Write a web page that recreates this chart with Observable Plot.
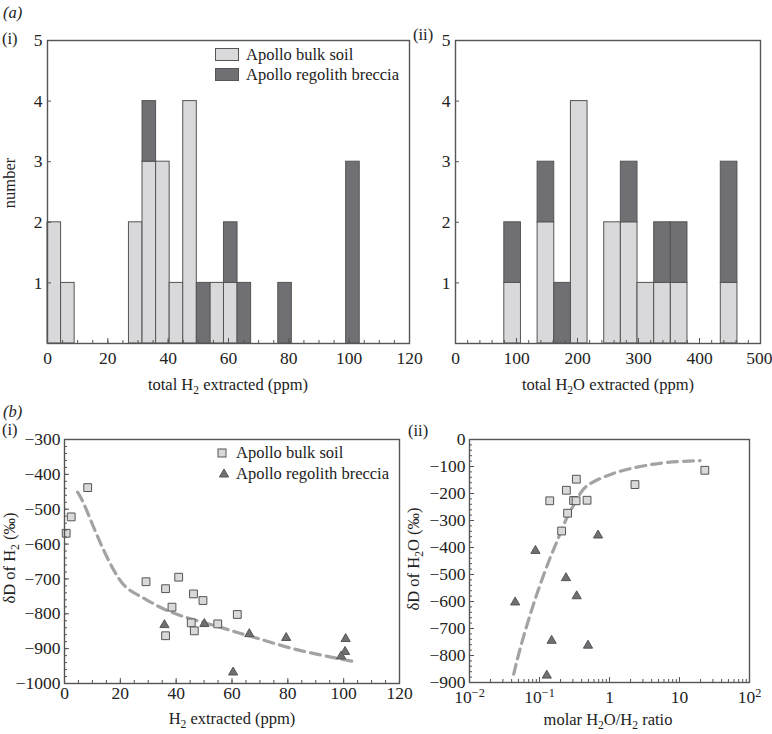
<!DOCTYPE html>
<html><head><meta charset="utf-8">
<script src="https://cdn.jsdelivr.net/npm/d3@7"></script>
<script src="https://cdn.jsdelivr.net/npm/@observablehq/plot@0.6"></script>
<style>
body{margin:0;background:#fff;}
#root{position:relative;width:772px;height:734px;font-family:"Liberation Serif",serif;color:#222;overflow:hidden;background:#fff}
#root svg text{font-family:"Liberation Serif",serif !important;}
.panel{position:absolute}
.lab{position:absolute;white-space:nowrap;line-height:1;transform:translate(0,-50%);font-size:16.5px}
.t{position:absolute;white-space:nowrap;line-height:1;transform:translate(-50%,-50%);font-size:16.5px}
.ty{position:absolute;white-space:nowrap;line-height:1;transform:translate(-50%,-50%) rotate(-90deg);font-size:16.5px}
sub{font-size:0.7em;vertical-align:-0.35em;line-height:0}
.sw{position:absolute;box-sizing:border-box;border:1px solid #555}
</style></head><body><div id="root"></div>
<script>
// ---------------- data ----------------
const categories = ["Apollo bulk soil", "Apollo regolith breccia"];

// (a)(i) histogram of total H2 extracted (ppm)
const h2BinWidth = 4.5;
const h2BinStart    = [0, 4.5, 27, 31.5, 36, 40.5, 45, 49.5, 54, 58.5, 63, 76.5, 99];
const h2SoilCount   = [2, 1,   2,  3,    3,  1,    4,  0,    1,  1,    0,  0,    0];
const h2BrecciaCount= [0, 0,   0,  1,    0,  0,    0,  1,    0,  1,    1,  1,    3];

// (a)(ii) histogram of total H2O extracted (ppm)
const h2oBinWidth = 27.3;
const h2oBinStart     = [80, 134.6, 161.9, 189.2, 243.8, 271.1, 298.4, 325.7, 353, 434.9];
const h2oSoilCount    = [1,  2,     0,     4,     2,     2,     1,     1,     1,   1];
const h2oBrecciaCount = [1,  1,     1,     0,     0,     1,     0,     1,     1,   2];

// (b)(i) dD of H2 vs H2 extracted
const soilH2     = [0.6, 2.4, 8.3, 29.2, 40.9, 36.2, 46.2, 49.6, 38.5, 61.9, 45.4, 54.9, 46.5, 36.2];
const soilDH2    = [-569, -522, -438, -708, -695, -728, -743, -762, -781, -802, -826, -829, -849, -863];
const brecciaH2  = [35.8, 50.1, 66.2, 79.4, 100.7, 100.5, 99.1, 60.4];
const brecciaDH2 = [-832, -829, -858, -869, -872, -909, -922, -968];
const curveH2x   = [4.7, 6.9, 10.4, 14.0, 17.6, 21.8, 27.2, 33.2, 39.1, 46.3, 54.7, 62.5, 70.2, 80.9, 92.9, 104.8];
const curveH2y   = [-451, -484, -551, -617, -674, -722, -750, -777, -798, -817, -836, -855, -873, -898, -920, -939];

// (b)(ii) dD of H2O vs molar H2O/H2 ratio
const soilRatio     = [0.14, 0.242, 0.336, 0.307, 0.333, 0.478, 0.252, 0.207, 2.31, 23];
const soilDH2O      = [-227, -188, -147, -226, -227, -225, -273, -339, -167, -114];
const brecciaRatio  = [0.0875, 0.686, 0.239, 0.34, 0.0449, 0.149, 0.493, 0.127];
const brecciaDH2O   = [-412, -355, -513, -580, -603, -745, -763, -874];
const curveRatioX   = [0.0428, 0.0535, 0.0741, 0.103, 0.143, 0.188, 0.248, 0.325, 0.428, 0.664, 1.28, 2.75, 6.6, 19.7];
const curveRatioY   = [-869, -770, -646, -535, -436, -362, -288, -232, -183, -150, -121, -100, -85, -78];

// tick values
const h2Ticks   = [0, 20, 40, 60, 80, 100, 120];
const h2oTicks  = [0, 100, 200, 300, 400, 500];
const countTicks = [1, 2, 3, 4, 5];
const dH2Ticks  = [-1000, -900, -800, -700, -600, -500, -400, -300];
const dH2OTicks = [-900, -800, -700, -600, -500, -400, -300, -200, -100, 0];
const ratioTicks = [0.01, 0.1, 1, 10, 100];
const ratioTickLabels = ["10^-2", "10^-1", "1", "10", "10^2"];

// ---------------- helpers ----------------
const EDGE = "#555";
const LIGHT = "#d9d9db";
const DARK = "#707074";
const colorScale = {domain: categories, range: [LIGHT, DARK]};
const baseStyle = {fontFamily: "'Liberation Serif', serif", fontSize: "17.5px", color: "#222", background: "none", overflow: "visible"};
const intFmt = d => String(d).replace("-", "\u2212");

function histRows(starts, width, soil, breccia) {
  const rows = [];
  starts.forEach((s, i) => { if (soil[i] > 0) rows.push({x1: s, x2: s + width, n: soil[i], type: categories[0]}); });
  starts.forEach((s, i) => { if (breccia[i] > 0) rows.push({x1: s, x2: s + width, n: breccia[i], type: categories[1]}); });
  return rows;
}

function place(svg, left, top) {
  const d = document.createElement("div");
  d.className = "panel";
  d.style.left = left + "px"; d.style.top = top + "px";
  d.appendChild(svg);
  document.getElementById("root").appendChild(d);
  return svg;
}

function histPlot(rows, xDomain, xMajor, xMinor, W, H, m) {
  const fw = W - m.left - m.right, fh = H - m.top - m.bottom;
  return Plot.plot({
    width: W, height: H,
    marginLeft: m.left, marginRight: m.right, marginTop: m.top, marginBottom: m.bottom,
    style: baseStyle,
    x: {domain: xDomain, ticks: xMajor, tickSize: 0, tickPadding: 8, label: null, tickFormat: intFmt},
    y: {domain: [0, 5], ticks: countTicks, tickSize: 0, tickPadding: 5, label: null, tickFormat: intFmt},
    color: colorScale,
    marks: [
      Plot.rectY(rows, {x1: "x1", x2: "x2", y: "n", fill: "type", stroke: EDGE, strokeWidth: 1}),
      Plot.ruleX(xMinor, {x: d => d, insetTop: fh - 3, stroke: EDGE}),
      Plot.ruleX(xMajor, {x: d => d, insetTop: fh - 5, stroke: EDGE}),
      Plot.ruleY(countTicks, {y: d => d, insetRight: fw - 4, stroke: EDGE}),
      Plot.frame({stroke: EDGE, strokeWidth: 1.4})
    ]
  });
}

function scatterPlot(o) {
  const fw = o.W - o.m.left - o.m.right, fh = o.H - o.m.top - o.m.bottom;
  const soil = o.soilX.map((x, i) => ({x, y: o.soilY[i]}));
  const brec = o.brecX.map((x, i) => ({x, y: o.brecY[i]}));
  const curve = o.curveX.map((x, i) => ({x, y: o.curveY[i]}));
  return Plot.plot({
    width: o.W, height: o.H,
    marginLeft: o.m.left, marginRight: o.m.right, marginTop: o.m.top, marginBottom: o.m.bottom,
    style: baseStyle,
    x: Object.assign({domain: o.xDomain, ticks: o.xMajor, tickSize: 0, tickPadding: o.xPad, label: null, tickFormat: intFmt}, o.xExtra || {}),
    y: {domain: o.yDomain, ticks: o.yMajor, tickSize: 0, tickPadding: 4, label: null, tickFormat: intFmt},
    marks: [
      Plot.line(curve, {x: "x", y: "y", stroke: "#a3a3a3", strokeWidth: 3.2, strokeDasharray: "10,6", curve: "natural"}),
      Plot.dot(soil, {x: "x", y: "y", symbol: "square", r: 4.4, fill: LIGHT, stroke: EDGE, strokeWidth: 1}),
      Plot.dot(brec, {x: "x", y: "y", symbol: "triangle", r: 3.4, fill: DARK, stroke: EDGE, strokeWidth: 1}),
      Plot.ruleX(o.xMinor, {x: d => d, insetTop: fh - 3, stroke: EDGE}),
      Plot.ruleX(o.xMajor, {x: d => d, insetTop: fh - 5, stroke: EDGE}),
      Plot.ruleY(o.yMinor, {y: d => d, insetRight: fw - 3, stroke: EDGE}),
      Plot.ruleY(o.yMajor, {y: d => d, insetRight: fw - 5, stroke: EDGE}),
      Plot.frame({stroke: EDGE, strokeWidth: 1.4})
    ]
  });
}

// ---------------- panels ----------------
place(histPlot(histRows(h2BinStart, h2BinWidth, h2SoilCount, h2BrecciaCount),
  [0, 120], h2Ticks, d3.range(0, 121, 5), 420, 360, {top: 20, left: 47, right: 11, bottom: 37}), 0, 20);

const svgA2 = place(histPlot(histRows(h2oBinStart, h2oBinWidth, h2oSoilCount, h2oBrecciaCount),
  [0, 500], h2oTicks, d3.range(0, 501, 20), 362, 360, {top: 20, left: 45, right: 12, bottom: 37}), 410, 20);

// keep the last tick label of (a)(ii) inside the page, as in the reference
d3.select(svgA2).selectAll("text").filter(function () { return this.textContent === "500"; })
  .attr("text-anchor", "end").attr("dx", "12");

place(scatterPlot({
  W: 410, H: 314, m: {top: 19, left: 64, right: 11, bottom: 51}, xPad: 3,
  xDomain: [0, 120], xMajor: h2Ticks, xMinor: d3.range(0, 121, 5),
  yDomain: [-1000, -300], yMajor: dH2Ticks, yMinor: d3.range(-1000, -299, 20),
  soilX: soilH2, soilY: soilDH2, brecX: brecciaH2, brecY: brecciaDH2,
  curveX: curveH2x, curveY: curveH2y
}), 0, 420);

const svgB2 = place(scatterPlot({
  W: 362, H: 314, m: {top: 19, left: 59, right: 23, bottom: 52}, xPad: 8,
  xDomain: [0.01, 100], xMajor: ratioTicks, xMinor: d3.scaleLog().domain([0.01, 100]).ticks(),
  xExtra: {type: "log", tickFormat: d => ratioTickLabels[ratioTicks.indexOf(d)]},
  yDomain: [-900, 0], yMajor: dH2OTicks, yMinor: d3.range(-900, 1, 20),
  soilX: soilRatio, soilY: soilDH2O, brecX: brecciaRatio, brecY: brecciaDH2O,
  curveX: curveRatioX, curveY: curveRatioY
}), 410, 420);

// superscript exponents on the log-axis tick labels
d3.select(svgB2).selectAll("text").each(function () {
  const t = this.textContent;
  if (t.includes("^")) {
    const [b, e] = t.split("^");
    const s = d3.select(this);
    s.text(b);
    s.append("tspan").attr("dy", "-0.5em").attr("font-size", "0.7em").text(e.replace("-", "\u2212"));
  }
});

// ---------------- texts & legends ----------------
const root = document.getElementById("root");
function add(html) { root.insertAdjacentHTML("beforeend", html); }

add(`<div class="lab" style="left:3px;top:13px;font-style:italic">(a)</div>`);
add(`<div class="lab" style="left:2px;top:39px">(i)</div>`);
add(`<div class="lab" style="left:413px;top:35px">(ii)</div>`);
add(`<div class="lab" style="left:3px;top:412px;font-style:italic">(b)</div>`);
add(`<div class="lab" style="left:2px;top:430px">(i)</div>`);
add(`<div class="lab" style="left:408px;top:431px">(ii)</div>`);

add(`<div class="ty" style="left:10px;top:183px">number</div>`);
add(`<div class="t" style="left:228px;top:385px">total H<sub>2</sub> extracted (ppm)</div>`);
add(`<div class="t" style="left:608px;top:385px">total H<sub>2</sub>O extracted (ppm)</div>`);
add(`<div class="ty" style="left:10px;top:558px">δD of H<sub>2</sub> (‰)</div>`);
add(`<div class="t" style="left:232px;top:719px">H<sub>2</sub> extracted (ppm)</div>`);
add(`<div class="ty" style="left:414px;top:559px">δD of H<sub>2</sub>O (‰)</div>`);
add(`<div class="t" style="left:608px;top:720px">molar H<sub>2</sub>O/H<sub>2</sub> ratio</div>`);

// legend (a)(i)
add(`<div class="sw" style="left:215px;top:48px;width:24px;height:13px;background:${LIGHT}"></div>`);
add(`<div class="sw" style="left:215px;top:68px;width:24px;height:13px;background:${DARK}"></div>`);
add(`<div class="lab" style="left:246px;top:55px">${categories[0]}</div>`);
add(`<div class="lab" style="left:246px;top:75px">${categories[1]}</div>`);

// legend (b)(i)
add(`<svg style="position:absolute;left:214px;top:445px" width="18" height="38">
  <rect x="4" y="4" width="8" height="8" fill="${LIGHT}" stroke="${EDGE}"/>
  <path d="M10,24 L14.6,32 L5.4,32 Z" fill="${DARK}" stroke="${EDGE}"/>
</svg>`);
add(`<div class="lab" style="left:236px;top:453px">${categories[0]}</div>`);
add(`<div class="lab" style="left:236px;top:474px">${categories[1]}</div>`);
</script></body></html>
